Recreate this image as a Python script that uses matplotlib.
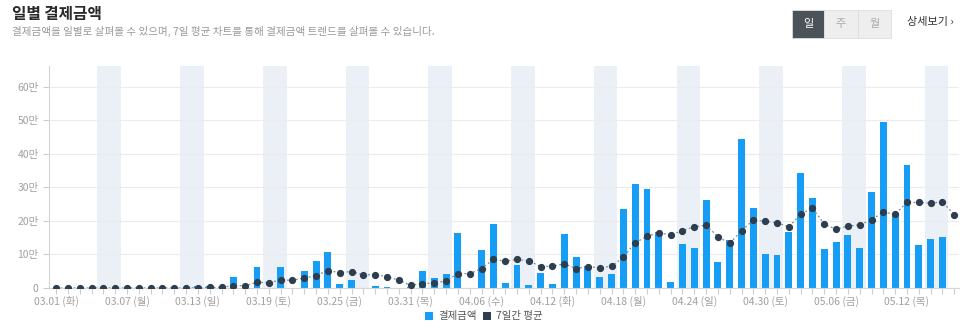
import numpy as np
import pandas as pd
import matplotlib
matplotlib.use('Agg')
import matplotlib.pyplot as plt
from matplotlib.patches import Rectangle

plt.rcParams['font.family'] = ['Noto Sans CJK KR', 'DejaVu Sans']

# daily payment amounts, in 만원
dates = pd.date_range('2022-03-01', '2022-05-16')
amounts = [0, 0, 0, 0, 0, 0, 0, 0, 0, 0, 0, 0,
           0.5, 0.7, 0, 3.3, 0, 6.2, 0, 6.4, 0, 5.1, 8.0, 10.7,
           1.3, 2.3, 0, 0.7, 0.4, 0.1, 0.3, 5.1, 2.9, 4.3, 16.5, 0.1,
           11.2, 19.2, 1.6, 6.8, 1.0, 4.5, 1.1, 16.0, 9.3, 6.5, 3.3, 4.3,
           23.5, 31.0, 29.6, 16.8, 1.8, 13.2, 12.0, 26.3, 7.9, 14.3, 44.5, 24.0,
           10.0, 9.9, 16.6, 34.3, 26.7, 11.6, 13.7, 15.9, 12.0, 28.6, 49.6, 22.4,
           36.7, 12.9, 14.7, 15.3, 0]
avg7 = [0, 0, 0, 0, 0, 0, 0, 0, 0, 0, 0, 0,
        0.1, 0.2, 0.2, 0.7, 0.7, 1.7, 1.6, 2.4, 2.3, 3.0, 3.7, 5.2,
        4.6, 4.9, 3.9, 4.0, 3.4, 2.3, 0.8, 1.3, 1.5, 2.1, 4.3, 4.3,
        5.8, 8.5, 8.0, 8.5, 8.1, 6.4, 6.5, 7.2, 5.8, 6.4, 6.0, 6.5,
        9.2, 13.5, 15.4, 16.5, 15.8, 17.1, 18.3, 18.7, 15.3, 13.3, 17.1, 20.3,
        19.9, 19.5, 18.2, 22.0, 23.8, 19.1, 17.5, 18.5, 18.8, 20.4, 22.6, 22.0,
        25.5, 25.5, 25.3, 25.7, 21.8]
weekday_kr = ['월', '화', '수', '목', '금', '토', '일']
y_ticks = [0, 10, 20, 30, 40, 50, 60]

W, H = 966, 335
fig = plt.figure(figsize=(W / 100, H / 100), dpi=100)
fig.patch.set_facecolor('white')

def fx(px):
    return px / W

def fy(py):
    return 1 - py / H

ax = fig.add_axes([fx(49), fy(288), fx(959) - fx(49), fy(66) - fy(288)])
x = np.arange(len(dates))

# weekend shading
for i, d in enumerate(dates):
    if d.weekday() == 5:
        ax.axvspan(i - 0.5, i + 1.5, color='#ebf0f6', lw=0, zorder=0)

ax.bar(x, amounts, width=0.58, color='#169ef6', zorder=2)
ax.plot(x, avg7, color='#7d8b97', lw=0.9, ls=(0, (1.5, 2)), zorder=3)
ax.plot(x, avg7, 'o', color='#2c3e4f', markersize=4.2, zorder=4)

ax.set_xlim(-0.6, 76.4)
ax.set_ylim(0, 66.2)
ax.set_yticks(y_ticks)
ax.set_yticklabels(['0' if v == 0 else f'{v}만' for v in y_ticks])
ax.grid(axis='y', color='#ececec', lw=0.8, zorder=1)
ax.set_axisbelow(True)

major = list(range(0, len(dates), 6))
ax.set_xticks(major)
ax.set_xticklabels([f"{dates[i]:%m.%d} ({weekday_kr[dates[i].weekday()]})" for i in major])
ax.set_xticks(x, minor=True)
ax.tick_params(axis='both', which='both', colors='#cccccc', labelcolor='#a0a0a0',
               labelsize=7.5, length=4, width=0.8)
ax.tick_params(axis='x', pad=2)
for s in ['top', 'right']:
    ax.spines[s].set_visible(False)
for s in ['left', 'bottom']:
    ax.spines[s].set_color('#d5d5d5')

# header
fig.text(fx(12), fy(14), '일별 결제금액', fontsize=11.3, fontweight='bold',
         color='#2a2a2a', va='center', ha='left')
fig.text(fx(12), fy(31), '결제금액을 일별로 살펴볼 수 있으며, 7일 평균 차트를 통해 결제금액 트렌드를 살펴볼 수 있습니다.',
         fontsize=7.6, color='#999999', va='center', ha='left')

# period toggle buttons
buttons = [('일', 792, 824, '#4b5258', '#ffffff'),
           ('주', 824, 858, '#eeeeee', '#aaaaaa'),
           ('월', 858, 891, '#eeeeee', '#aaaaaa')]
for label, x0, x1, bg, fg in buttons:
    fig.add_artist(Rectangle((fx(x0), fy(38)), fx(x1) - fx(x0), fy(10) - fy(38),
                             transform=fig.transFigure, facecolor=bg,
                             edgecolor='#dddddd', lw=0.6))
    fig.text(fx((x0 + x1) / 2), fy(24), label, fontsize=8, color=fg,
             ha='center', va='center')
fig.text(fx(907), fy(22), '상세보기 ›', fontsize=8, color='#333333',
         ha='left', va='center')

# legend
fig.add_artist(Rectangle((fx(425), fy(320)), fx(8), fy(312) - fy(320),
                         transform=fig.transFigure, facecolor='#169ef6', lw=0))
fig.text(fx(438), fy(316), '결제금액', fontsize=7.5, color='#555555', va='center')
fig.add_artist(Rectangle((fx(483), fy(320)), fx(8), fy(312) - fy(320),
                         transform=fig.transFigure, facecolor='#2c3e4f', lw=0))
fig.text(fx(496), fy(316), '7일간 평균', fontsize=7.5, color='#555555', va='center')

fig.savefig('out.png', dpi=100)
